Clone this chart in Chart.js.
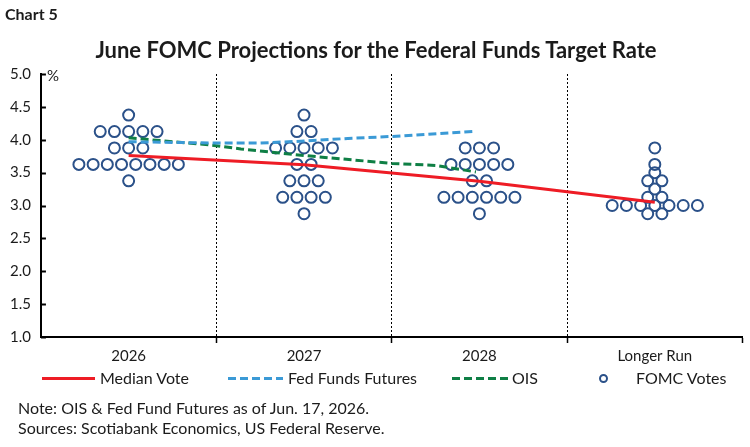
<!DOCTYPE html>
<html>
<head>
<meta charset="utf-8">
<script src="https://cdn.jsdelivr.net/npm/chart.js@4.4.1/dist/chart.umd.min.js"></script>
<style>
  body { margin: 0; background: #fff; font-family: Lato, sans-serif; color: #1b1b1b; }
  #wrap { position: relative; width: 750px; height: 447px; overflow: hidden; }
  #rateChart { position: absolute; left: 0; top: 0; }
  .txt { position: absolute; white-space: nowrap; line-height: 1; }
  .swatch { position: absolute; height: 3px; }
</style>
</head>
<body>
<div id="wrap">
  <canvas id="rateChart" width="750" height="447"></canvas>
  <div class="txt" style="left:5px; top:6px; font-size:16px; font-weight:bold;">Chart 5</div>
  <div class="txt" style="left:0; width:752px; text-align:center; top:39px; font-size:22px; font-weight:bold;">June FOMC Projections for the Federal Funds Target Rate</div>
  <div class="txt" style="left:47px; top:68px; font-size:15px;">%</div>

  <div class="swatch" style="left:42px; top:377px; width:53px; background:#ee1c25;"></div>
  <div class="txt" style="left:100px; top:370px; font-size:16px;">Median Vote</div>
  <div class="swatch" style="left:228px; top:377px; width:55px; background:repeating-linear-gradient(90deg,#3b9ad6 0 8px,transparent 8px 12px);"></div>
  <div class="txt" style="left:288px; top:370px; font-size:16px;">Fed Funds Futures</div>
  <div class="swatch" style="left:452px; top:377px; width:56px; background:repeating-linear-gradient(90deg,#0f7f45 0 8px,transparent 8px 12px);"></div>
  <div class="txt" style="left:512px; top:370px; font-size:16px;">OIS</div>
  <div style="position:absolute; left:599px; top:374px; width:5px; height:5px; border:2px solid #2b5189; border-radius:50%;"></div>
  <div class="txt" style="left:636px; top:370px; font-size:16px;">FOMC Votes</div>

  <div class="txt" style="left:18px; top:400px; font-size:16px;">Note: OIS &amp; Fed Fund Futures as of Jun. 17, 2026.</div>
  <div class="txt" style="left:18px; top:420px; font-size:16px;">Sources: Scotiabank Economics, US Federal Reserve.</div>
</div>
<script>
const categories = ["2026", "2027", "2028", "Longer Run"];
const yTickValues = [1.0, 1.5, 2.0, 2.5, 3.0, 3.5, 4.0, 4.5, 5.0];

// rate levels and number of FOMC votes at each level, per projection year
const rateLevels = [4.375, 4.125, 3.875, 3.625, 3.5, 3.375, 3.25, 3.125, 3.0, 2.875];
const votes2026 = [1, 5, 3, 8, 0, 1, 0, 0, 0, 0];
const votes2027 = [1, 2, 5, 2, 0, 3, 0, 4, 0, 1];
const votes2028 = [0, 0, 3, 5, 0, 2, 0, 6, 0, 1];
const votesLongerRun = [0, 0, 1, 1, 1, 2, 1, 2, 7, 2];

const medianVote = [3.76, 3.62, 3.37, 3.05];

// market curves, x is position along the category axis (0 = 2026)
const futuresX = [0, 0.47, 0.75, 1.0, 1.25, 1.5, 1.98];
const futuresRate = [3.97, 3.95, 3.95, 3.98, 4.02, 4.05, 4.13];
const oisX = [0, 0.47, 0.64, 1.0, 1.5, 1.75, 1.98];
const oisRate = [4.03, 3.92, 3.86, 3.76, 3.64, 3.61, 3.51];

const dotStep = 0.081;
const allVotes = [votes2026, votes2027, votes2028, votesLongerRun];
const votePoints = [];
allVotes.forEach((counts, c) => {
    counts.forEach((n, i) => {
        for (let k = 0; k < n; k++) {
            votePoints.push({ x: c + (k - (n - 1) / 2) * dotStep, y: rateLevels[i] });
        }
    });
});

const insideTicks = {
    id: 'insideTicks',
    afterDraw(chart) {
        const { ctx, chartArea, scales } = chart;
        ctx.save();
        ctx.strokeStyle = '#000';
        ctx.lineWidth = 2;
        yTickValues.forEach(v => {
            const py = Math.round(scales.y.getPixelForValue(v)) + 0.5;
            ctx.beginPath();
            ctx.moveTo(chartArea.left, py);
            ctx.lineTo(chartArea.left + 5, py);
            ctx.stroke();
        });
        ctx.restore();
    }
};

const isDivider = v => Math.abs(v % 1) === 0.5;

new Chart(document.getElementById("rateChart"), {
    type: "scatter",
    data: {
        datasets: [
            {
                type: "line",
                label: "Median Vote",
                data: medianVote.map((v, i) => ({ x: i, y: v })),
                borderColor: "#ee1c25",
                borderWidth: 3,
                pointRadius: 0,
                tension: 0
            },
            {
                type: "line",
                label: "Fed Funds Futures",
                data: futuresX.map((x, i) => ({ x: x, y: futuresRate[i] })),
                borderColor: "#3b9ad6",
                borderWidth: 3,
                borderDash: [8, 4],
                pointRadius: 0,
                tension: 0
            },
            {
                type: "line",
                label: "OIS",
                data: oisX.map((x, i) => ({ x: x, y: oisRate[i] })),
                borderColor: "#0f7f45",
                borderWidth: 3,
                borderDash: [8, 4],
                pointRadius: 0,
                tension: 0
            },
            {
                label: "FOMC Votes",
                data: votePoints,
                pointRadius: 5.5,
                pointBorderWidth: 2,
                borderColor: "#2b5189",
                backgroundColor: "rgba(0,0,0,0)"
            }
        ]
    },
    options: {
        responsive: false,
        animation: false,
        layout: { padding: { left: 0, right: 7, top: 74, bottom: 78 } },
        scales: {
            x: {
                type: "linear",
                min: -0.5,
                max: 3.5,
                afterBuildTicks: axis => {
                    axis.ticks = [-0.5, 0, 0.5, 1, 1.5, 2, 2.5, 3, 3.5].map(v => ({ value: v }));
                },
                ticks: {
                    autoSkip: false,
                    maxRotation: 0,
                    padding: 4,
                    color: "#1b1b1b",
                    font: { family: "Lato", size: 15 },
                    callback: value => Number.isInteger(value) ? categories[value] : ""
                },
                grid: {
                    color: c => (c.tick && isDivider(c.tick.value) && c.tick.value > 0 && c.tick.value < 3) ? "#000" : "rgba(0,0,0,0)",
                    tickColor: c => (c.tick && isDivider(c.tick.value) && c.tick.value > 0) ? "#000" : "rgba(0,0,0,0)",
                    lineWidth: 1,
                    tickWidth: 1.5,
                    tickLength: 6
                },
                border: { display: true, color: "#000", width: 2, dash: [2, 2] }
            },
            y: {
                min: 1,
                max: 5,
                afterBuildTicks: axis => {
                    axis.ticks = yTickValues.map(v => ({ value: v }));
                },
                ticks: {
                    padding: 10,
                    color: "#1b1b1b",
                    font: { family: "Lato", size: 15 },
                    callback: value => value.toFixed(1)
                },
                grid: { display: false, drawTicks: false },
                border: { display: true, color: "#000", width: 2 }
            }
        },
        plugins: {
            legend: { display: false },
            tooltip: { enabled: false }
        }
    },
    plugins: [insideTicks]
});
</script>
</body>
</html>
